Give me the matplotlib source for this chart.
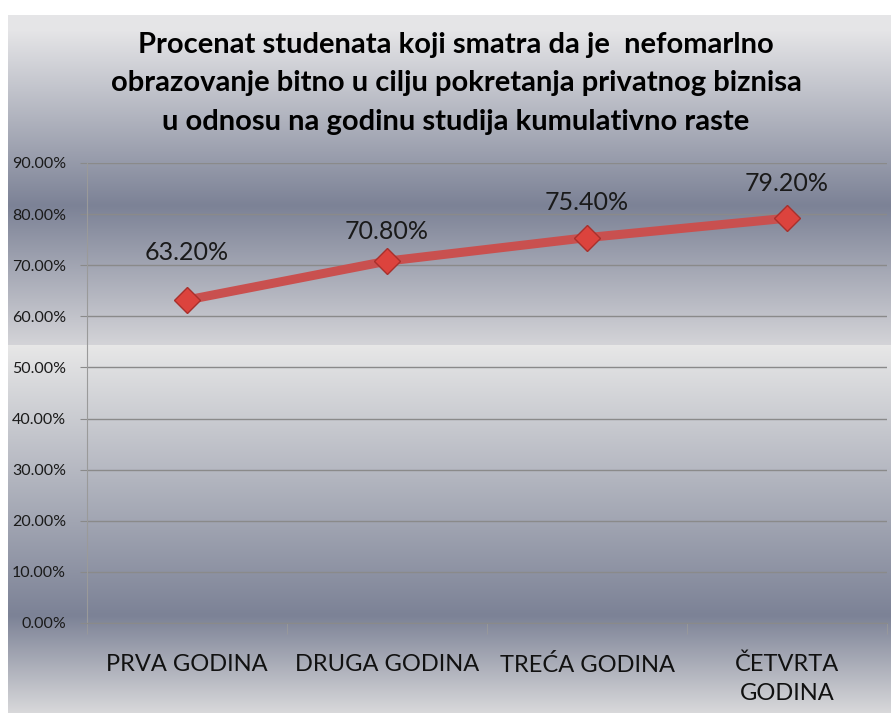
import numpy as np
import matplotlib
matplotlib.use("Agg")
import matplotlib.pyplot as plt
from matplotlib.ticker import FuncFormatter, FixedLocator

# data
categories = ["PRVA GODINA", "DRUGA GODINA", "TREĆA GODINA", "ČETVRTA\nGODINA"]
values = [0.632, 0.708, 0.754, 0.792]
value_labels = ["63.20%", "70.80%", "75.40%", "79.20%"]
title_lines = ["Procenat studenata koji smatra da je  nefomarlno",
               "obrazovanje bitno u cilju pokretanja privatnog biznisa",
               "u odnosu na godinu studija kumulativno raste"]
label_offsets = [34, 21, 25, 25]  # points above marker, like excel placed them

W, H = 891, 713
fig = plt.figure(figsize=(W / 100, H / 100), dpi=100)
plt.rcParams['font.family'] = ['Lato', 'DejaVu Sans']

# background: two stacked gradient bands (office style fill)
bg = fig.add_axes([0, 0, 1, 1])
bg.set_xlim(0, W)
bg.set_ylim(H, 0)
bg.axis("off")
ys = np.arange(H)
light, dark = np.array([229, 229, 231]), np.array([124, 130, 150])
top_y = [15, 30, 205, 345]
top_c = [light, light, dark, np.array([212, 212, 216])]
bot_y = [345, 615, 713]
bot_c = [np.array([231, 231, 231]), dark, np.array([217, 217, 219])]
img = np.ones((H, 1, 3))
for ch in range(3):
    col = np.where(ys < 345,
                   np.interp(ys, top_y, [c[ch] for c in top_c]),
                   np.interp(ys, bot_y, [c[ch] for c in bot_c]))
    img[:, 0, ch] = col / 255.0
img[:15] = 1.0
bg.imshow(img, extent=(8, W, H, 0), aspect="auto", zorder=0)

# plot area
ax = fig.add_axes([87 / W, (H - 623) / H, 800 / W, 460 / H])
ax.patch.set_alpha(0)
x = np.arange(len(categories))
ax.plot(x, values, color="#c9504f", lw=6.5, solid_capstyle="butt", zorder=3)
ax.plot(x, values, ls="none", marker="D", ms=13, mfc="#dc433d", mec="#a8302c",
        mew=1, zorder=4)
for xi, v, lab, off in zip(x, values, value_labels, label_offsets):
    ax.annotate(lab, (xi, v), xytext=(0, off), textcoords="offset points",
                ha="center", va="center", fontsize=18, color="#1a1a1a")

ax.set_xlim(-0.5, len(categories) - 0.5)
ax.set_ylim(0, 0.9)
ax.set_yticks(np.arange(0, 0.91, 0.1))
ax.yaxis.set_major_formatter(FuncFormatter(lambda v, p: "%.2f%%" % (v * 100)))
ax.grid(axis="y", color="#8a8a8a", lw=1)
ax.set_axisbelow(True)
ax.set_xticks(x)
ax.set_xticklabels(categories, fontsize=17, color="#111111", linespacing=1.45)
ax.xaxis.set_minor_locator(FixedLocator(np.arange(-0.5, len(categories), 1.0)))
ax.tick_params(axis="x", which="major", length=0, pad=22)
ax.tick_params(axis="x", which="minor", length=8, color="#9a9a9a")
ax.tick_params(axis="y", length=5, color="#8a8a8a", labelsize=11.5,
               labelcolor="#1a1a1a", pad=10)
for s in ["top", "right"]:
    ax.spines[s].set_visible(False)
ax.spines["left"].set_color("#9a9a9a")
ax.spines["left"].set_linewidth(0.8)
ax.spines["bottom"].set_color("#8a8a8a")

# title lines
for i, t in enumerate(title_lines):
    fig.text(456 / W, 1 - (45 + 38.5 * i) / H, t, ha="center", va="center",
             fontsize=21, fontweight="bold", color="#000000")

fig.savefig("out.png", dpi=100)
